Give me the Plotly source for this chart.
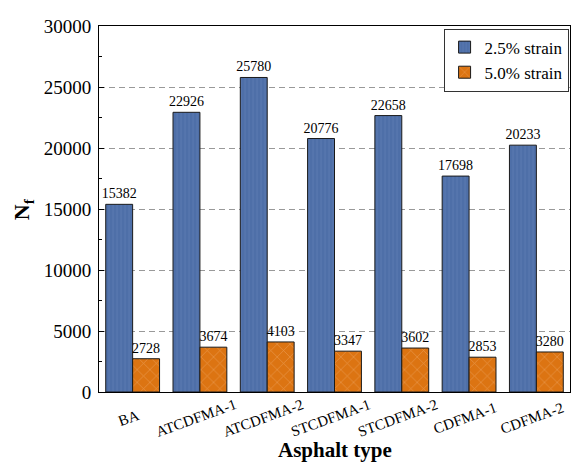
import plotly.graph_objects as go

categories = ["BA", "ATCDFMA-1", "ATCDFMA-2", "STCDFMA-1", "STCDFMA-2", "CDFMA-1", "CDFMA-2"]
strain_25 = [15382, 22926, 25780, 20776, 22658, 17698, 20233]
strain_50 = [2728, 3674, 4103, 3347, 3602, 2853, 3280]

FONT = "Liberation Serif"

fig = go.Figure()
fig.add_trace(go.Bar(
    x=categories, y=strain_25, name="2.5% strain",
    marker=dict(color="#4e6fa8", line=dict(color="#1a1a1a", width=1),
                pattern=dict(shape="|", fgcolor="#6482b8", size=4, solidity=0.3)),
    text=[str(v) for v in strain_25], textposition="outside", textangle=0,
    constraintext="none",
    textfont=dict(family=FONT, size=14, color="black"), cliponaxis=False,
))
fig.add_trace(go.Bar(
    x=categories, y=strain_50, name="5.0% strain",
    marker=dict(color="#dc7412", line=dict(color="#1a1a1a", width=1),
                pattern=dict(shape="x", fgcolor="#f3b47a", size=9, solidity=0.15)),
    text=[str(v) for v in strain_50], textposition="outside", textangle=0,
    constraintext="none",
    textfont=dict(family=FONT, size=14, color="black"), cliponaxis=False,
))

annotations = [
    dict(text="<b>Asphalt type</b>", xref="paper", yref="paper", x=0.5, y=-0.158,
         xanchor="center", yanchor="middle", showarrow=False,
         font=dict(family=FONT, size=21, color="black")),
    dict(text="<b>N<sub>f</sub></b>", xref="paper", yref="paper", x=-0.161, y=0.5,
         xanchor="center", yanchor="middle", showarrow=False, textangle=-90,
         font=dict(family=FONT, size=22, color="black")),
]
for c in categories:
    annotations.append(dict(
        text=c, xref="x", yref="paper", x=c, y=-0.07, xshift=-4,
        xanchor="center", yanchor="middle", showarrow=False, textangle=-20,
        font=dict(family=FONT, size=15, color="black")))

fig.update_layout(
    width=571, height=454,
    margin=dict(l=91, r=8, t=11, b=70),
    paper_bgcolor="white", plot_bgcolor="white",
    barmode="group", bargap=0.2, bargroupgap=0,
    font=dict(family=FONT, color="black", size=15),
    showlegend=True,
    legend=dict(x=0.997, y=0.993, xanchor="right", yanchor="top",
                bordercolor="#333333", borderwidth=1, bgcolor="white",
                font=dict(family=FONT, size=17, color="black"), tracegroupgap=0),
    xaxis=dict(
        showticklabels=False,
        showline=True, linecolor="black", linewidth=1, mirror=True,
        ticks="", showgrid=False,
    ),
    yaxis=dict(
        range=[0, 30000], dtick=5000, tickformat="d", tickfont=dict(family=FONT, size=19),
        ticklabelstandoff=3,
        showline=True, linecolor="black", linewidth=1, mirror=True,
        ticks="inside", ticklen=5, tickcolor="black",
        minor=dict(dtick=2500, ticks="inside", ticklen=3, tickcolor="black", showgrid=False),
        showgrid=True, gridcolor="#999999", griddash="6px,4px", gridwidth=1,
        zeroline=False,
    ),
    annotations=annotations,
)

fig.write_html("out.html")
